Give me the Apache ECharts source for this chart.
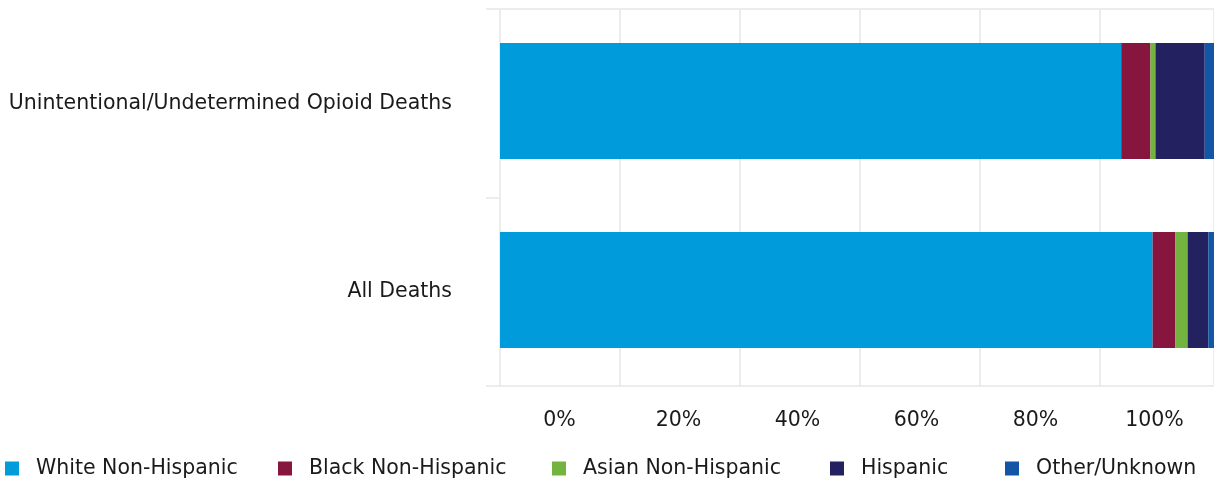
<!DOCTYPE html>
<html>
<head>
<meta charset="utf-8">
<script src="https://cdn.jsdelivr.net/npm/echarts@6/dist/echarts.min.js"></script>
<style>
html,body{margin:0;padding:0;background:#fff;}
#main{width:1214px;height:478px;}
</style>
</head>
<body>
<div id="main"></div>
<script>
const categories = ['Unintentional/Undetermined Opioid Deaths', 'All Deaths'];
const tickLabels = ['0%', '20%', '40%', '60%', '80%', '100%'];
const seriesNames = ['White Non-Hispanic', 'Black Non-Hispanic', 'Asian Non-Hispanic', 'Hispanic', 'Other/Unknown'];
const whiteNH = [87.0, 91.4];
const blackNH = [4.1, 3.2];
const asianNH = [0.7, 1.7];
const hispanic = [6.9, 2.9];
const otherUnknown = [1.3, 0.8];
const colors = ['#009bdb', '#87163f', '#72b43f', '#232160', '#1356a6'];

const seriesData = [whiteNH, blackNH, asianNH, hispanic, otherUnknown];
const legendLefts = [5, 278, 552, 830, 1005];
const FONT = 'DejaVu Sans';
const FS = 20.5;
const GRID = '#ececec';
const TXT = '#1a1a1a';

const chart = echarts.init(document.getElementById('main'), null, {renderer: 'canvas'});
chart.setOption({
  animation: false,
  textStyle: {fontFamily: FONT},
  grid: [
    {left: 500, right: 0, top: 6.5, bottom: 93.5, containLabel: false},
    {left: 500, right: 0, top: 9, bottom: 92, containLabel: false}
  ],
  legend: seriesNames.map((name, i) => ({
    left: legendLefts[i], top: 458, padding: 0,
    itemWidth: 14, itemHeight: 14,
    icon: 'rect',
    textStyle: {fontFamily: FONT, fontSize: FS, lineHeight: 14, color: TXT, padding: [0, 0, 0, 12]},
    data: [name]
  })),
  xAxis: [
    {
      type: 'value', min: 0, max: 100, gridIndex: 0, show: false
    },
    {
      type: 'value', min: 0, max: 100, position: 'top', gridIndex: 1,
      axisLine: {show: true, lineStyle: {color: GRID, width: 2}},
      axisTick: {show: false}, axisLabel: {show: false}, splitLine: {show: false}
    },
    {
      type: 'value', min: 0, max: 119, interval: 20, position: 'bottom', gridIndex: 1,
      axisLine: {show: true, lineStyle: {color: GRID, width: 2}},
      axisTick: {show: false}, axisLabel: {show: false},
      splitLine: {show: true, lineStyle: {color: GRID, width: 2}}
    },
    {
      type: 'category', data: tickLabels, position: 'bottom', boundaryGap: true, gridIndex: 1,
      axisLine: {show: false}, axisTick: {show: false}, splitLine: {show: false},
      axisLabel: {fontFamily: FONT, fontSize: FS, color: TXT, margin: 24}
    }
  ],
  yAxis: [
    {
      type: 'category', inverse: true, data: categories, gridIndex: 0, show: false
    },
    {
      type: 'category', inverse: true, data: categories, gridIndex: 1,
      axisLine: {show: true, lineStyle: {color: GRID, width: 2}},
      axisTick: {show: true, length: 14, lineStyle: {color: GRID, width: 2}},
      axisLabel: {fontFamily: FONT, fontSize: FS, color: TXT, margin: 48}
    }
  ],
  series: seriesNames.map((name, i) => ({
    name: name, type: 'bar', stack: 'total', xAxisIndex: 0, yAxisIndex: 0,
    barWidth: 116,
    itemStyle: {color: colors[i]},
    data: seriesData[i]
  }))
});
</script>
</body>
</html>
